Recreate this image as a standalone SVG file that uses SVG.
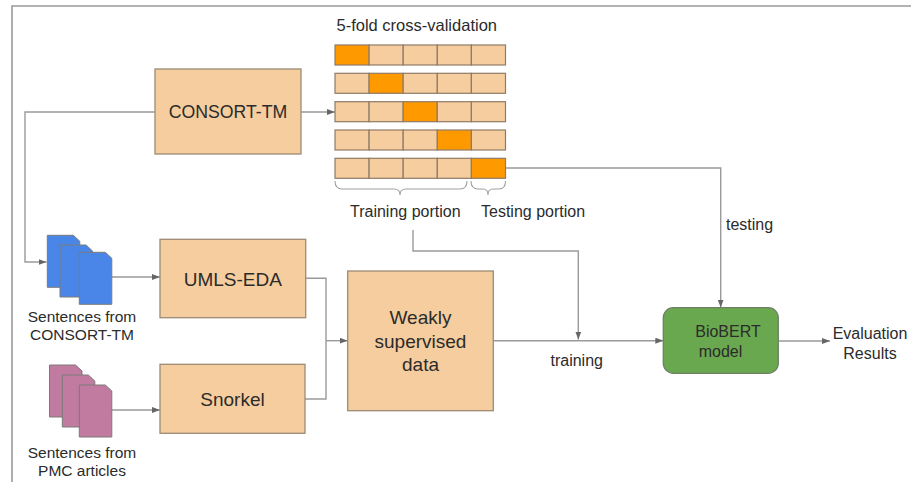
<svg xmlns="http://www.w3.org/2000/svg" width="911" height="482" viewBox="0 0 911 482">
<defs>
<style>
text{font-family:"Liberation Sans",Arial,sans-serif;fill:#2b2b2b}
.box{fill:#f6cd9e;stroke:#9c8a76;stroke-width:1.3}
.cell{fill:#f6cd9e;stroke:#8f7b66;stroke-width:1.2}
.hot{fill:#ff9900;stroke:#8f7b66;stroke-width:1.2}
.ln{fill:none;stroke:#9a9a9a;stroke-width:1.4}
.br{fill:none;stroke:#a0a0a0;stroke-width:1.1}
.blue{fill:#4a86e8;stroke:#7a7a7a;stroke-width:1}
.pink{fill:#c27ba0;stroke:#7a7a7a;stroke-width:1}
.t16{font-size:16px}
.t15{font-size:15.5px}
.t19{font-size:19px}
.mid{text-anchor:middle}
</style>
<marker id="arr" viewBox="0 0 8 6" refX="8" refY="3" markerWidth="8" markerHeight="6" markerUnits="userSpaceOnUse" orient="auto">
<path d="M0,0 L8,3 L0,6 Z" fill="#666"/>
</marker>
<path id="doc" d="M0,0 H26 L32.5,6 V52 H0 Z"/>
</defs>
<rect width="911" height="482" fill="#fff"/>
<path d="M911,6 H12 V482" fill="none" stroke="#9a9a9a" stroke-width="1.6"/>

<g id="connectors">
<path class="ln" d="M301,112 H335" marker-end="url(#arr)"/>
<path class="ln" d="M155,112 H25 V262 H46.5" marker-end="url(#arr)"/>
<path class="ln" d="M111.7,277 H160" marker-end="url(#arr)"/>
<path class="ln" d="M111.7,410 H160" marker-end="url(#arr)"/>
<path class="ln" d="M305.7,278.3 H326 V399 H305"/>
<path class="ln" d="M326,340.7 H347.7" marker-end="url(#arr)"/>
<path class="ln" d="M413,230 V251 H578.3 V339.5" marker-end="url(#arr)"/>
<path class="ln" d="M505.7,168 H720.7 V307.5" marker-end="url(#arr)"/>
<path class="ln" d="M493.3,340.7 H663.3" marker-end="url(#arr)"/>
<path class="ln" d="M778.3,341 H830" marker-end="url(#arr)"/>
<text class="t16" x="726" y="229.5">testing</text>
<text class="t16 mid" x="576.7" y="365.5">training</text>
</g>

<g id="consort-tm">
<rect class="box" x="155" y="69" width="146" height="85"/>
<text class="mid" style="font-size:17.7px" x="228" y="118.3">CONSORT-TM</text>
</g>

<g id="cross-validation">
<text style="font-size:16.5px" x="336.5" y="31">5-fold cross-validation</text>
<g transform="translate(335,45)">
<rect class="hot" x="0" y="0" width="34.1" height="20"/><rect class="cell" x="34.1" y="0" width="34.1" height="20"/><rect class="cell" x="68.2" y="0" width="34.1" height="20"/><rect class="cell" x="102.3" y="0" width="34.1" height="20"/><rect class="cell" x="136.4" y="0" width="34.1" height="20"/>
</g>
<g transform="translate(335,73.3)">
<rect class="cell" x="0" y="0" width="34.1" height="20"/><rect class="hot" x="34.1" y="0" width="34.1" height="20"/><rect class="cell" x="68.2" y="0" width="34.1" height="20"/><rect class="cell" x="102.3" y="0" width="34.1" height="20"/><rect class="cell" x="136.4" y="0" width="34.1" height="20"/>
</g>
<g transform="translate(335,101.7)">
<rect class="cell" x="0" y="0" width="34.1" height="20"/><rect class="cell" x="34.1" y="0" width="34.1" height="20"/><rect class="hot" x="68.2" y="0" width="34.1" height="20"/><rect class="cell" x="102.3" y="0" width="34.1" height="20"/><rect class="cell" x="136.4" y="0" width="34.1" height="20"/>
</g>
<g transform="translate(335,130)">
<rect class="cell" x="0" y="0" width="34.1" height="20"/><rect class="cell" x="34.1" y="0" width="34.1" height="20"/><rect class="cell" x="68.2" y="0" width="34.1" height="20"/><rect class="hot" x="102.3" y="0" width="34.1" height="20"/><rect class="cell" x="136.4" y="0" width="34.1" height="20"/>
</g>
<g transform="translate(335,158.3)">
<rect class="cell" x="0" y="0" width="34.1" height="20"/><rect class="cell" x="34.1" y="0" width="34.1" height="20"/><rect class="cell" x="68.2" y="0" width="34.1" height="20"/><rect class="cell" x="102.3" y="0" width="34.1" height="20"/><rect class="hot" x="136.4" y="0" width="34.1" height="20"/>
</g>
<path class="br" d="M335,181 Q335,189 342,189 H394 Q400,189 400,195 Q400,189 406,189 H460 Q467,189 467,181"/>
<path class="br" d="M471,181 Q471,189 478,189 H483 Q488,189 488,195 Q488,189 493,189 H499 Q505.5,189 505.5,181"/>
<text class="t16" x="350" y="217.3">Training portion</text>
<text class="t16" x="481" y="217.3">Testing portion</text>
</g>

<g id="docs-consort">
<use href="#doc" class="blue" x="47.3" y="235.3"/>
<use href="#doc" class="blue" x="60" y="245"/>
<use href="#doc" class="blue" x="79.3" y="252.3"/>
<text class="t15 mid" x="82" y="321.7">Sentences from</text>
<text class="t15 mid" x="82" y="340">CONSORT-TM</text>
</g>

<g id="docs-pmc">
<use href="#doc" class="pink" x="49.5" y="365"/>
<use href="#doc" class="pink" x="62.3" y="375"/>
<use href="#doc" class="pink" x="79.3" y="385"/>
<text class="t15 mid" x="82" y="457.5">Sentences from</text>
<text class="t15 mid" x="82" y="475.5">PMC articles</text>
</g>

<g id="umls-eda">
<rect class="box" x="160" y="239.3" width="145.7" height="78.4"/>
<text class="t19 mid" x="232.8" y="285.7">UMLS-EDA</text>
</g>

<g id="snorkel">
<rect class="box" x="160" y="364.3" width="145" height="69"/>
<text class="t19 mid" x="232.5" y="406">Snorkel</text>
</g>

<g id="weakly">
<rect class="box" x="347.7" y="271" width="145.6" height="139.7"/>
<text class="t19 mid" x="420.5" y="324">Weakly</text>
<text class="t19 mid" x="420.5" y="347.7">supervised</text>
<text class="t19 mid" x="420.5" y="370.5">data</text>
</g>

<g id="biobert">
<rect x="663.3" y="307.7" width="115" height="65.6" rx="10" fill="#6aa84f" stroke="#6f7f66" stroke-width="1.3"/>
<text class="t16 mid" x="728" y="337.3">BioBERT</text>
<text class="t16 mid" x="720.5" y="356.7">model</text>
</g>

<g id="evaluation">
<text class="t16 mid" x="870" y="339.3">Evaluation</text>
<text class="t16 mid" x="870" y="359.3">Results</text>
</g>
</svg>
